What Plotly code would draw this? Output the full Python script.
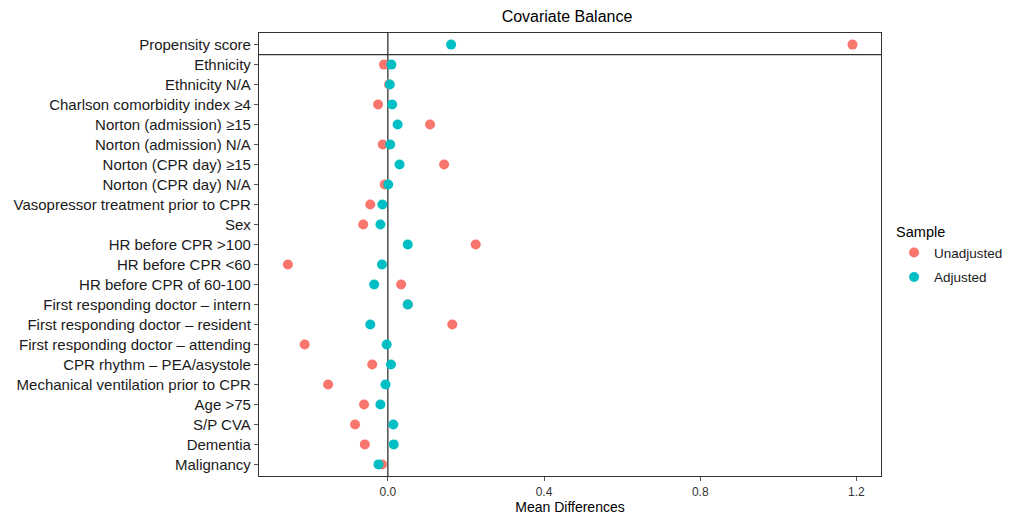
import plotly.graph_objects as go

covariates = [
    "Propensity score",
    "Ethnicity",
    "Ethnicity N/A",
    "Charlson comorbidity index ≥4",
    "Norton (admission) ≥15",
    "Norton (admission) N/A",
    "Norton (CPR day) ≥15",
    "Norton (CPR day) N/A",
    "Vasopressor treatment prior to CPR",
    "Sex",
    "HR before CPR >100",
    "HR before CPR <60",
    "HR before CPR of 60-100",
    "First responding doctor – intern",
    "First responding doctor – resident",
    "First responding doctor – attending",
    "CPR rhythm – PEA/asystole",
    "Mechanical ventilation prior to CPR",
    "Age >75",
    "S/P CVA",
    "Dementia",
    "Malignancy",
]
unadjusted = [1.190, -0.010, 0.003, -0.025, 0.108, -0.013, 0.144, -0.008, -0.045, -0.063,
              0.225, -0.256, 0.034, 0.051, 0.165, -0.213, -0.040, -0.153, -0.061, -0.084,
              -0.059, -0.015]
adjusted = [0.162, 0.009, 0.005, 0.011, 0.025, 0.006, 0.030, 0.001, -0.014, -0.019,
            0.051, -0.015, -0.035, 0.051, -0.045, -0.003, 0.008, -0.006, -0.019, 0.014,
            0.015, -0.024]
x_ticks = [0.0, 0.4, 0.8, 1.2]

idx = list(range(len(covariates)))
font = "Liberation Sans, Arial, sans-serif"

# page body has an 8px margin: figure drawn at (8, 8)
W, H = 1009, 508
L, R, T, B = 251, 136, 25, 40

fig = go.Figure()
fig.add_trace(go.Scatter(x=unadjusted, y=idx, mode="markers", name="Unadjusted",
                         legendgroup="u", marker=dict(color="#F8766D", size=10)))
fig.add_trace(go.Scatter(x=adjusted, y=idx, mode="markers", name="Adjusted",
                         legendgroup="a", marker=dict(color="#00BFC4", size=10)))

fig.add_shape(type="line", xref="x", yref="paper", x0=0, x1=0, y0=0, y1=1,
              line=dict(color="#333333", width=1.3), layer="below")
fig.add_shape(type="line", xref="paper", yref="y", x0=0, x1=1, y0=0.5, y1=0.5,
              line=dict(color="#333333", width=1.3), layer="below")

fig.update_layout(
    width=W, height=H,
    margin=dict(l=L, r=R, t=T, b=B, autoexpand=False),
    plot_bgcolor="white", paper_bgcolor="white",
    font=dict(family=font, color="#1a1a1a", size=14),
    title=dict(text="Covariate Balance", x=(567 - 8) / W, xanchor="center",
               y=1 - (16 - 8) / H, yanchor="middle", font=dict(size=16, color="#000000")),
    xaxis=dict(range=[-0.330, 1.263], tickvals=x_ticks, ticktext=["0.0", "0.4", "0.8", "1.2"],
               showgrid=False, zeroline=False, showline=True, mirror=True,
               linecolor="#333333", linewidth=1.3, ticks="outside", ticklen=4,
               tickcolor="#555555", tickfont=dict(size=12, color="#333333"),
               title=dict(text="Mean Differences", font=dict(size=14, color="#000000"), standoff=4)),
    yaxis=dict(range=[21.58, -0.58], tickvals=idx, ticktext=covariates,
               showgrid=False, zeroline=False, showline=True, mirror=True,
               linecolor="#333333", linewidth=1.3, ticks="outside", ticklen=4,
               tickcolor="#555555", tickfont=dict(size=15, color="#1a1a1a")),
    legend=dict(title=dict(text="Sample", font=dict(size=14.5, color="#000000")),
                x=1.021, xanchor="left", y=0.498, yanchor="middle",
                tracegroupgap=4,
                font=dict(size=13.5, color="#1a1a1a"), bgcolor="rgba(0,0,0,0)"),
)

fig.write_html("out.html")
